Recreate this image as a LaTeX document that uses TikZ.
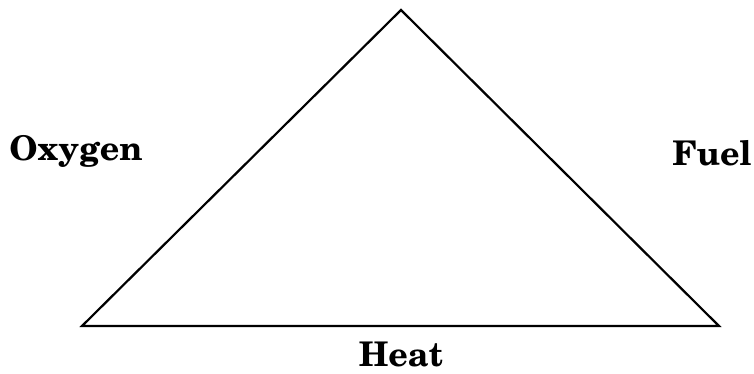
\documentclass[tikz,border=0pt]{standalone}
\font\lblfont=pncb8t at 34pt
\begin{document}
\begin{tikzpicture}[x=1pt,y=-1pt,
  lbl/.style={font=\lblfont, inner sep=0pt, anchor=base},
  edge/.style={line width=2.2pt, line join=miter}]
\useasboundingbox (0,0) rectangle (754,373);
\coordinate (L) at (82,326);
\coordinate (T) at (401,10);
\coordinate (R) at (719,326);
\draw[edge] (L) -- (T) -- (R) -- cycle;
\node[lbl] (ox) at (76,160) {Oxygen};
\node[lbl] (fu) at (712,165) {Fuel};
\node[lbl] (he) at (401,366) {Heat};
\end{tikzpicture}
\end{document}
